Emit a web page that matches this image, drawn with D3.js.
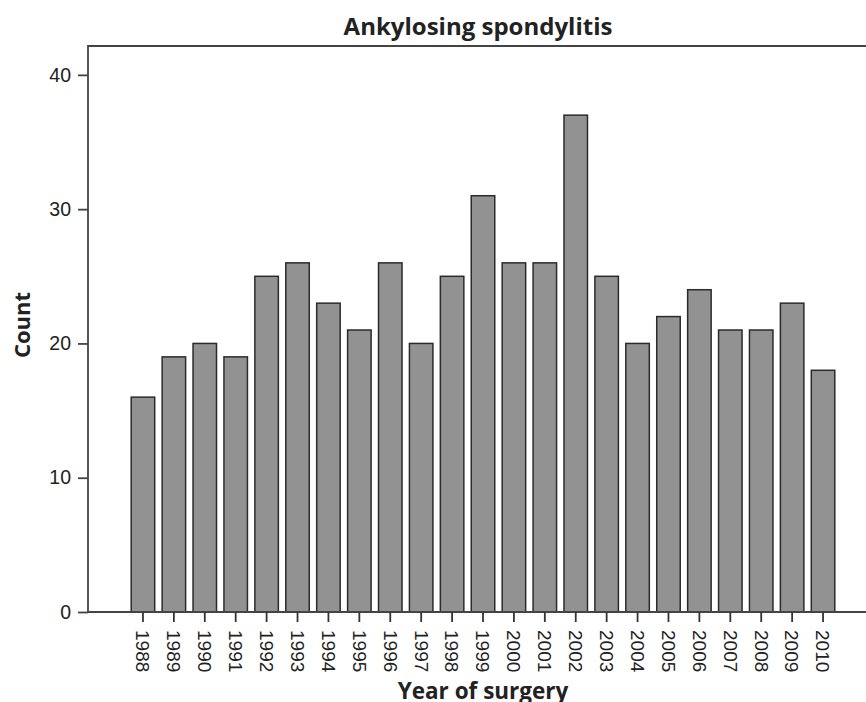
<!DOCTYPE html>
<html>
<head>
<meta charset="utf-8">
<script src="https://cdn.jsdelivr.net/npm/d3@7"></script>
<style>
  body { margin: 0; background: #fff; }
  .tick text { font-family: "Liberation Sans", Arial, sans-serif; fill: #222; }
  .lbl { font-family: "Open Sans", sans-serif; font-weight: bold; fill: #222; }
</style>
</head>
<body>
<div id="graphic"></div>
<script>
var years = ["1988", "1989", "1990", "1991", "1992", "1993", "1994", "1995", "1996", "1997", "1998", "1999",
             "2000", "2001", "2002", "2003", "2004", "2005", "2006", "2007", "2008", "2009", "2010"];
var counts = [16, 19, 20, 19, 25, 26, 23, 21, 26, 20, 25, 31, 26, 26, 37, 25, 20, 22, 24, 21, 21, 23, 18];
var yTicks = [0, 10, 20, 30, 40];

(function() {
  var width = 866;
  var height = 702;
  var mLeft = 88;
  var mTop = 46;
  var mBottom = 612;

  var svg = d3.select("#graphic")
    .append("svg")
    .attr("width", width)
    .attr("height", height);

  var xScale = d3.scaleBand()
    .domain(years)
    .range([127.5, 838.5])
    .paddingInner(0.24)
    .paddingOuter(0.12);

  var yScale = d3.scaleLinear()
    .domain([0, 42.15])
    .range([mBottom, mTop]);

  // bars
  svg.append("g")
    .selectAll("rect")
    .data(years)
    .enter()
    .append("rect")
    .attr("x", function(d) { return xScale(d); })
    .attr("y", function(d, i) { return yScale(counts[i]); })
    .attr("width", xScale.bandwidth())
    .attr("height", function(d, i) { return yScale(0) - yScale(counts[i]); })
    .attr("fill", "#929292")
    .attr("stroke", "#2b2b2b")
    .attr("stroke-width", 1.5);

  // frame (top + left + bottom), open on the right
  svg.append("path")
    .attr("d", "M" + width + "," + mTop + "H" + mLeft + "V" + mBottom + "H" + width)
    .attr("fill", "none")
    .attr("stroke", "#444")
    .attr("stroke-width", 1.8);

  var yAxis = d3.axisLeft(yScale)
    .tickValues(yTicks)
    .tickSize(10)
    .tickPadding(7);

  var gy = svg.append("g")
    .attr("transform", "translate(" + mLeft + ",0)")
    .call(yAxis);
  gy.select(".domain").remove();
  gy.selectAll("line").attr("stroke", "#444").attr("stroke-width", 1.8);
  gy.selectAll("text").style("font-size", "19.5px");

  var xAxis = d3.axisBottom(xScale)
    .tickSize(10)
    .tickPadding(0);

  var gx = svg.append("g")
    .attr("transform", "translate(0," + mBottom + ")")
    .call(xAxis);
  gx.select(".domain").remove();
  gx.selectAll("line").attr("stroke", "#333").attr("stroke-width", 1.8);
  gx.selectAll("text")
    .style("font-size", "19px")
    .attr("transform", "rotate(90)")
    .attr("text-anchor", "start")
    .attr("dy", "0.35em")
    .attr("x", 18)
    .attr("y", 0);

  svg.append("text")
    .attr("class", "lbl")
    .attr("x", 478)
    .attr("y", 35)
    .attr("text-anchor", "middle")
    .style("font-size", "24px")
    .text("Ankylosing spondylitis");

  svg.append("text")
    .attr("class", "lbl")
    .attr("transform", "translate(30,325) rotate(-90)")
    .attr("text-anchor", "middle")
    .style("font-size", "22px")
    .text("Count");

  svg.append("text")
    .attr("class", "lbl")
    .attr("x", 483)
    .attr("y", 699)
    .attr("text-anchor", "middle")
    .style("font-size", "22.5px")
    .text("Year of surgery");
})();
</script>
</body>
</html>
